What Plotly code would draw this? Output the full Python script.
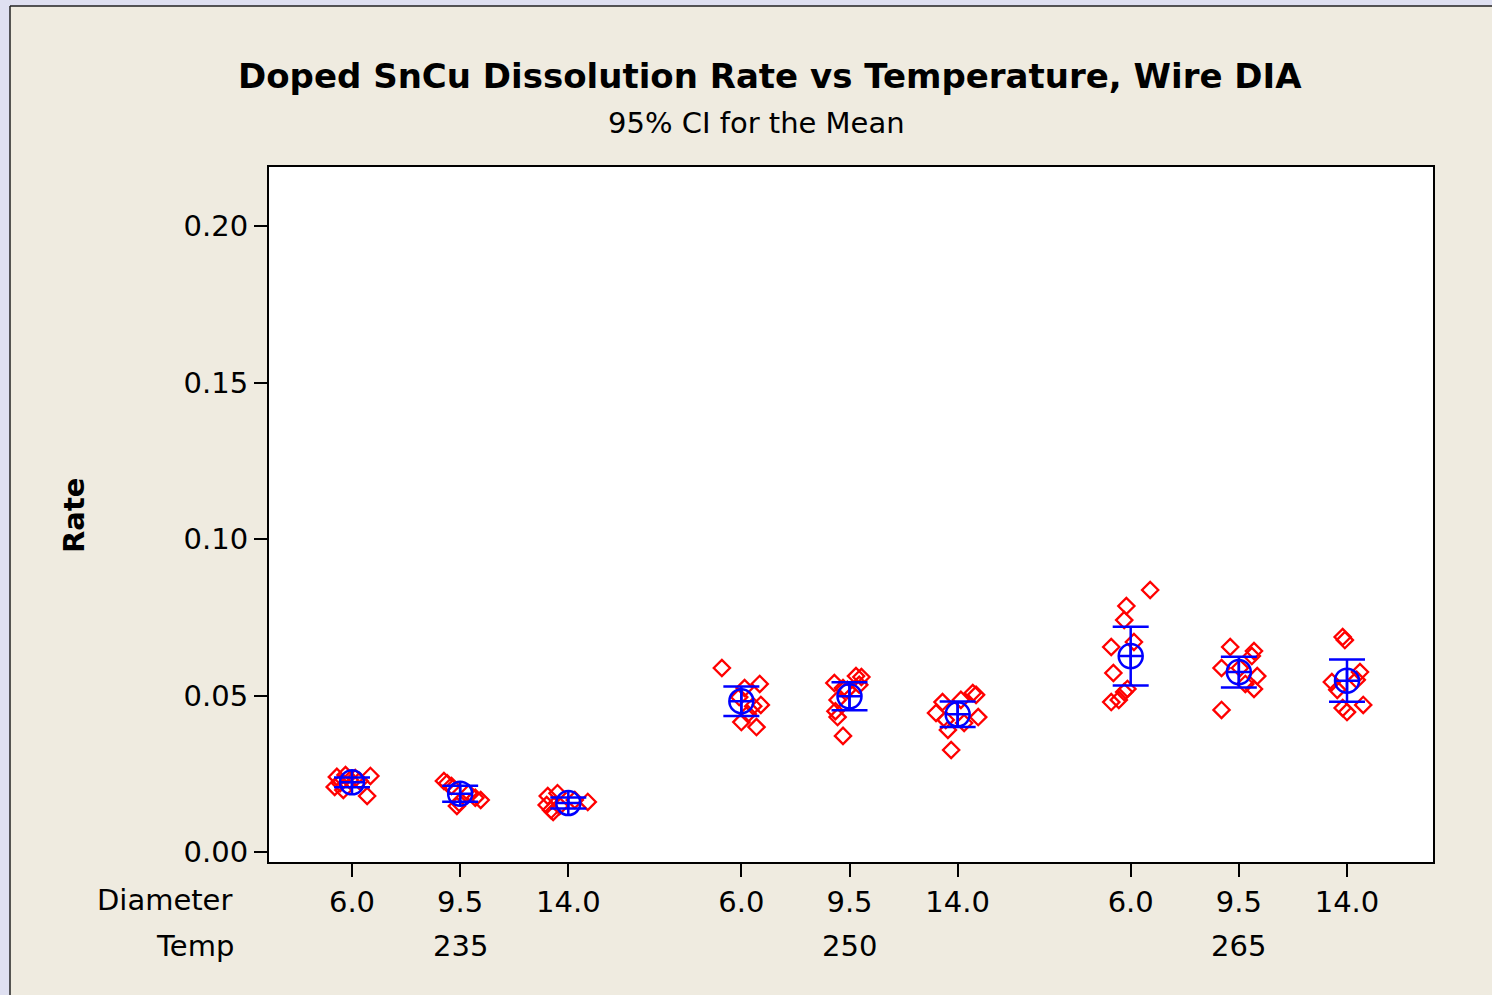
import numpy as np
import plotly.graph_objects as go

temps = ["235", "250", "265"]
diameters = ["6.0", "9.5", "14.0"]

# Individual Rate values per (Temp, Diameter) group
rate_235_60 = [0.0240, 0.0208, 0.0246, 0.0198, 0.0236, 0.0243, 0.0179, 0.0230, 0.0220, 0.0227]
rate_235_95 = [0.0227, 0.0220, 0.0211, 0.0157, 0.0147, 0.0173, 0.0166, 0.0188]
rate_235_140 = [0.0179, 0.0188, 0.0150, 0.0128, 0.0147, 0.0160, 0.0166, 0.0134]
rate_250_60 = [0.0588, 0.0524, 0.0537, 0.0466, 0.0470, 0.0415, 0.0399, 0.0441, 0.0495]
rate_250_95 = [0.0540, 0.0524, 0.0562, 0.0559, 0.0486, 0.0450, 0.0431, 0.0371, 0.0518, 0.0534]
rate_250_140 = [0.0479, 0.0444, 0.0486, 0.0508, 0.0502, 0.0431, 0.0390, 0.0326, 0.0412, 0.0422]
rate_265_60 = [0.0837, 0.0786, 0.0741, 0.0671, 0.0655, 0.0572, 0.0521, 0.0511, 0.0479, 0.0486]
rate_265_95 = [0.0655, 0.0588, 0.0642, 0.0626, 0.0562, 0.0521, 0.0537, 0.0454, 0.0588]
rate_265_140 = [0.0687, 0.0677, 0.0543, 0.0518, 0.0575, 0.0550, 0.0460, 0.0447, 0.0470]

# horizontal jitter of each plotted point (category units)
jit_235_60 = [-0.14, -0.16, -0.06, -0.08, 0.03, 0.17, 0.14, -0.02, -0.11, 0.07]
jit_235_95 = [-0.15, -0.12, -0.08, -0.01, -0.03, 0.14, 0.19, 0.08]
jit_235_140 = [-0.19, -0.10, -0.20, -0.14, -0.08, 0.18, 0.06, -0.16]
jit_250_60 = [-0.18, 0.03, 0.17, 0.11, 0.18, 0.0, 0.14, 0.06, -0.02]
jit_250_95 = [-0.14, -0.06, 0.06, 0.11, -0.11, -0.13, -0.11, -0.06, -0.02, 0.09]
jit_250_140 = [-0.14, -0.20, 0.03, 0.14, 0.17, 0.19, -0.09, -0.06, 0.06, -0.11]
jit_265_60 = [0.18, -0.04, -0.06, 0.03, -0.18, -0.16, -0.03, -0.06, -0.18, -0.11]
jit_265_95 = [-0.08, -0.16, 0.14, 0.12, 0.17, 0.14, 0.06, -0.16, 0.01]
jit_265_140 = [-0.04, -0.02, -0.14, -0.09, 0.12, 0.09, -0.04, 0.0, 0.15]

groups = [
    [(rate_235_60, jit_235_60), (rate_235_95, jit_235_95), (rate_235_140, jit_235_140)],
    [(rate_250_60, jit_250_60), (rate_250_95, jit_250_95), (rate_250_140, jit_250_140)],
    [(rate_265_60, jit_265_60), (rate_265_95, jit_265_95), (rate_265_140, jit_265_140)],
]

T95 = {5: 2.571, 6: 2.447, 7: 2.365, 8: 2.306, 9: 2.262, 10: 2.228}

GROUP_STEP = 3.6
pts_x, pts_y = [], []
mean_x, mean_y, ci_half = [], [], []
tickvals, ticktext = [], []
temp_pos = []
for ti, row in enumerate(groups):
    for di, (vals, jit) in enumerate(row):
        pos = ti * GROUP_STEP + di
        tickvals.append(pos)
        ticktext.append(diameters[di])
        for v, j in zip(vals, jit):
            pts_x.append(pos + j)
            pts_y.append(v)
        arr = np.array(vals)
        n = len(arr)
        m = arr.mean()
        sd = arr.std(ddof=1)
        mean_x.append(pos)
        mean_y.append(m)
        ci_half.append(T95[n - 1] * sd / np.sqrt(n))
    temp_pos.append(ti * GROUP_STEP + 1)

W, H = 1492, 995
L, R, T, B = 269, 1433, 167, 862

fig = go.Figure()
fig.add_trace(go.Scatter(
    x=pts_x, y=pts_y, mode="markers",
    marker=dict(symbol="diamond-open", size=12.5, color="#ff0000",
                line=dict(width=2.3, color="#ff0000")),
    showlegend=False, hoverinfo="y",
))
fig.add_trace(go.Scatter(
    x=mean_x, y=mean_y, mode="markers",
    marker=dict(symbol="circle-cross-open", size=24, color="#0000ff",
                line=dict(width=2.5, color="#0000ff")),
    error_y=dict(type="data", array=ci_half, visible=True, color="#0000ff",
                 thickness=2.5, width=18),
    showlegend=False,
))

def px_x(p):
    return (p - L) / (R - L)

def px_y(p):
    return (B - p) / (B - T)

font_reg = "DejaVu Sans"
annotations = [
    dict(text="<b>Doped SnCu Dissolution Rate vs Temperature, Wire DIA</b>",
         x=px_x(770), y=px_y(76), xref="paper", yref="paper",
         showarrow=False, font=dict(family=font_reg, size=34, color="black"),
         xanchor="center", yanchor="middle"),
    dict(text="95% CI for the Mean",
         x=px_x(756), y=px_y(123), xref="paper", yref="paper",
         showarrow=False, font=dict(family=font_reg, size=29, color="black"),
         xanchor="center", yanchor="middle"),
    dict(text="<b>Rate</b>", textangle=-90,
         x=px_x(74), y=px_y(516), xref="paper", yref="paper",
         showarrow=False, font=dict(family=font_reg, size=29, color="black"),
         xanchor="center", yanchor="middle"),
    dict(text="Diameter", x=px_x(234), y=px_y(900), xref="paper", yref="paper",
         showarrow=False, font=dict(family=font_reg, size=29, color="black"),
         xanchor="right", yanchor="middle"),
    dict(text="Temp", x=px_x(236), y=px_y(946), xref="paper", yref="paper",
         showarrow=False, font=dict(family=font_reg, size=29, color="black"),
         xanchor="right", yanchor="middle"),
]
for tp, tl in zip(temp_pos, temps):
    annotations.append(dict(text=tl, x=tp, y=px_y(946), xref="x", yref="paper",
                            showarrow=False,
                            font=dict(family=font_reg, size=29, color="black"),
                            xanchor="center", yanchor="middle"))

px_per_unit = (1347 - 352) / (2 * GROUP_STEP + 2)
x_lo = (L - 352) / px_per_unit
x_hi = (R - 352) / px_per_unit
y_per_px = 0.20 / (852 - 226)
y_lo = -(862 - 852) * y_per_px
y_hi = 0.20 + (226 - 167) * y_per_px

shapes = [
    dict(type="rect", xref="paper", yref="paper",
         x0=px_x(0), x1=px_x(10), y0=px_y(995), y1=px_y(0),
         fillcolor="#dfe0f1", line=dict(width=0), layer="below"),
    dict(type="rect", xref="paper", yref="paper",
         x0=px_x(0), x1=px_x(1492), y0=px_y(6), y1=px_y(0),
         fillcolor="#dfe0f1", line=dict(width=0), layer="below"),
    dict(type="line", xref="paper", yref="paper",
         x0=px_x(10), x1=px_x(10), y0=px_y(995), y1=px_y(6),
         line=dict(color="#222222", width=1.5)),
    dict(type="line", xref="paper", yref="paper",
         x0=px_x(10), x1=px_x(1492), y0=px_y(6), y1=px_y(6),
         line=dict(color="#222222", width=1.5)),
]

fig.update_layout(
    width=W, height=H,
    margin=dict(l=L, r=W - R, t=T, b=H - B, pad=0),
    paper_bgcolor="#efebe0",
    plot_bgcolor="#ffffff",
    font=dict(family=font_reg, size=29, color="black"),
    annotations=annotations,
    shapes=shapes,
    xaxis=dict(range=[x_lo, x_hi], tickvals=tickvals, ticktext=ticktext,
               ticks="outside", ticklen=13, tickwidth=2, tickcolor="black",
               showline=True, linecolor="black", linewidth=2, mirror=True,
               showgrid=False, zeroline=False,
               tickfont=dict(family=font_reg, size=29, color="black")),
    yaxis=dict(range=[y_lo, y_hi], tickvals=[0.0, 0.05, 0.10, 0.15, 0.20],
               ticktext=["0.00", "0.05", "0.10", "0.15", "0.20"],
               ticks="outside", ticklen=13, tickwidth=2, tickcolor="black",
               showline=True, linecolor="black", linewidth=2, mirror=True,
               showgrid=False, zeroline=False,
               tickfont=dict(family=font_reg, size=29, color="black")),
)

fig.write_html("out.html")
